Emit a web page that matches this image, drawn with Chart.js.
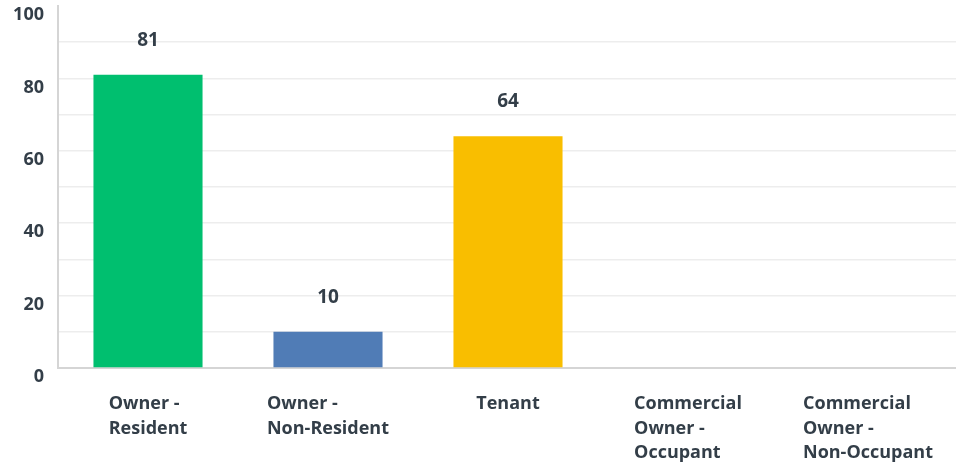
<!DOCTYPE html>
<html>
<head>
<meta charset="utf-8">
<script src="https://cdn.jsdelivr.net/npm/chart.js@4.4.1/dist/chart.umd.min.js"></script>
<style>
  html, body { margin: 0; padding: 0; background: #fff; overflow: hidden; }
  #wrap { position: relative; width: 958px; height: 466px; }
</style>
</head>
<body>
<div id="wrap"><canvas id="respondents"></canvas></div>
<script>
// Respondent type breakdown
const categories = [
  ['Owner -', 'Resident'],
  ['Owner -', 'Non-Resident'],
  ['Tenant'],
  ['Commercial', 'Owner -', 'Occupant'],
  ['Commercial', 'Owner -', 'Non-Occupant']
];
const responses = [81, 10, 64, 0, 0];
const barColors = ['#00BF6F', '#507CB6', '#F9BE00', '#6BC8CD', '#F05B24'];
const yLabels = [0, 20, 40, 60, 80, 100];

const textColor = '#333E48';
const fontFamily = "'Open Sans', 'Noto Sans', sans-serif";

// value above each bar
const valueLabels = {
  id: 'valueLabels',
  afterDatasetsDraw(chart) {
    const ctx = chart.ctx;
    const meta = chart.getDatasetMeta(0);
    ctx.save();
    ctx.fillStyle = textColor;
    ctx.font = `bold 19px ${fontFamily}`;
    ctx.textAlign = 'center';
    ctx.textBaseline = 'alphabetic';
    meta.data.forEach((bar, i) => {
      if (!responses[i]) return;
      ctx.fillText(String(responses[i]), bar.x, bar.y - 29);
    });
    ctx.restore();
  }
};

// category labels: block centred on the tick, lines left aligned
const categoryLabels = {
  id: 'categoryLabels',
  afterDraw(chart) {
    const ctx = chart.ctx;
    const xScale = chart.scales.x;
    const base = chart.chartArea.bottom;
    ctx.save();
    ctx.fillStyle = textColor;
    ctx.font = `bold 18px ${fontFamily}`;
    ctx.textAlign = 'left';
    ctx.textBaseline = 'alphabetic';
    categories.forEach((lines, i) => {
      const cx = xScale.getPixelForValue(i);
      const w = Math.max(...lines.map(l => ctx.measureText(l).width));
      const left = cx - w / 2;
      lines.forEach((l, j) => ctx.fillText(l, left, base + 41 + j * 24.5));
    });
    ctx.restore();
  }
};

new Chart(document.getElementById('respondents'), {
  type: 'bar',
  data: {
    labels: categories.map(c => c.join(' ')),
    datasets: [{
      data: responses,
      backgroundColor: barColors,
      barPercentage: 0.606,
      categoryPercentage: 1,
      borderWidth: 0
    }]
  },
  options: {
    responsive: true,
    maintainAspectRatio: false,
    animation: false,
    layout: { padding: { top: 6, left: 0, right: 0, bottom: 0 } },
    plugins: { legend: { display: false }, tooltip: { enabled: false } },
    scales: {
      x: {
        grid: { display: false, drawTicks: false },
        border: { color: '#D5D5D5', width: 2 },
        ticks: { display: false },
        afterFit(scale) { scale.height = 98; }
      },
      y: {
        min: 0,
        max: 100,
        afterFit(scale) {
          scale.width = 58;
          scale.paddingTop = 0;
          scale.paddingBottom = 0;
        },
        border: { color: '#D5D5D5', width: 2 },
        grid: {
          drawTicks: false,
          lineWidth: 1.5,
          color: c => (c.tick && c.tick.value === 100) ? 'rgba(0,0,0,0)' : '#EDEDED'
        },
        ticks: {
          stepSize: 10,
          padding: 14,
          labelOffset: 9,
          color: textColor,
          font: { family: fontFamily, size: 18, weight: 'bold' },
          callback: v => yLabels.includes(v) ? String(v) : ''
        }
      }
    }
  },
  plugins: [valueLabels, categoryLabels]
});
</script>
</body>
</html>
